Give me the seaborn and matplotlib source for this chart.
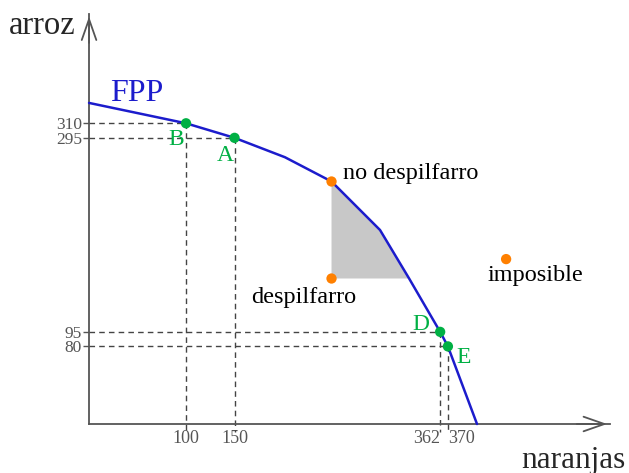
import matplotlib
matplotlib.use("Agg")
import matplotlib.pyplot as plt
import seaborn as sns
import pandas as pd

# frontera de posibilidades de produccion (naranjas, arroz)
fpp_naranjas = [0, 100, 150, 202, 250, 300, 330, 362, 370, 400]
fpp_arroz = [331, 310, 295, 275, 250, 200, 150, 95, 80, 0]

# puntos sobre la frontera
puntos_nombres = ["B", "A", "D", "E"]
puntos_naranjas = [100, 150, 362, 370]
puntos_arroz = [310, 295, 95, 80]

# otros puntos
otros_nombres = ["no despilfarro", "despilfarro", "imposible"]
otros_naranjas = [250, 250, 430]
otros_arroz = [250, 150, 170]

# zona sombreada
zona_naranjas = [250, 250, 330, 300, 250]
zona_arroz = [250, 150, 150, 200, 250]

xticks = [100, 150, 362, 370]
yticks = [310, 295, 95, 80]

sns.set_style("white")
plt.rcParams['font.family'] = ['Liberation Serif', 'DejaVu Serif']

azul = "#1c1ccc"
verde = "#00b044"
naranja = "#ff8000"
gris = "#555555"

fig = plt.figure(figsize=(6.29, 4.73), dpi=100)
ax = fig.add_axes([0, 0, 1, 1])
ax.set_xlim(-91.8, 556.7)
ax.set_ylim(-50.5, 437.1)

ax.fill(zona_naranjas, zona_arroz, color="#c8c8c8", lw=0, zorder=1)

# lineas discontinuas de referencia
for x, y in zip(puntos_naranjas, puntos_arroz):
    ax.plot([0, x], [y, y], ls=(0, (4, 3)), color="#444444", lw=1, zorder=2)
    ax.plot([x, x], [y, -8], ls=(0, (4, 3)), color="#444444", lw=1, zorder=2)

fpp = pd.DataFrame({"naranjas": fpp_naranjas, "arroz": fpp_arroz})
sns.lineplot(data=fpp, x="naranjas", y="arroz", color=azul, lw=1.8,
             sort=False, ax=ax, zorder=4)

pts = pd.DataFrame({"naranjas": puntos_naranjas, "arroz": puntos_arroz})
sns.scatterplot(data=pts, x="naranjas", y="arroz", color=verde, s=55,
                edgecolor="none", ax=ax, zorder=5)
otros = pd.DataFrame({"naranjas": otros_naranjas, "arroz": otros_arroz})
sns.scatterplot(data=otros, x="naranjas", y="arroz", color=naranja, s=55,
                edgecolor="none", ax=ax, zorder=5)

# etiquetas de los puntos
desp = {"B": (-7, -12), "A": (-6.5, -13), "D": (-14, 5), "E": (11.5, -8)}
for n, x, y in zip(puntos_nombres, puntos_naranjas, puntos_arroz):
    ax.annotate(n, (x, y), xytext=desp[n], textcoords="offset points",
                ha="center", va="center", color=verde, fontsize=17)
desp2 = {"no despilfarro": ((8, 6), "left"), "despilfarro": ((-20, -14), "center"),
         "imposible": ((21, -11.5), "center")}
for n, x, y in zip(otros_nombres, otros_naranjas, otros_arroz):
    off, ha = desp2[n]
    ax.annotate(n, (x, y), xytext=off, textcoords="offset points",
                ha=ha, va="center", color="black", fontsize=17.5)

ax.text(49, 341, "FPP", color=azul, fontsize=23, ha="center", va="center")

# ejes con flechas
for s in ["top", "right"]:
    ax.spines[s].set_visible(False)
ax.spines["left"].set_position(("data", 0))
ax.spines["bottom"].set_position(("data", 0))
ax.spines["left"].set_bounds(0, 423)
ax.spines["bottom"].set_bounds(0, 537)
for s in ["left", "bottom"]:
    ax.spines[s].set_color(gris)
    ax.spines[s].set_linewidth(1.3)
ax.annotate("", xy=(537, 0), xytext=(500, 0),
            arrowprops=dict(arrowstyle="->,head_length=1.0,head_width=0.35",
                            color=gris, lw=1.3, mutation_scale=15))
ax.annotate("", xy=(0, 423), xytext=(0, 390),
            arrowprops=dict(arrowstyle="->,head_length=1.0,head_width=0.35",
                            color=gris, lw=1.3, mutation_scale=15))

ax.set_xticks(xticks)
ax.set_xticklabels([str(v) for v in xticks])
ax.set_yticks(yticks)
ax.set_yticklabels([str(v) for v in yticks])
ax.tick_params(axis="y", direction="out", length=4.5, width=1, color=gris,
               labelcolor=gris, labelsize=12.5, pad=0.5, left=True)
ax.tick_params(axis="x", direction="out", length=0, labelcolor=gris,
               labelsize=13, pad=4, bottom=True)
xl = ax.get_xticklabels()
xl[2].set_ha("right")
xl[3].set_ha("left")
ax.set_xlabel("")
ax.set_ylabel("")

fig.text(42 / 629, 1 - 26 / 473, "arroz", fontsize=23.5, ha="center", va="center")
fig.text(573 / 629, 1 - 460 / 473, "naranjas", fontsize=22.5, ha="center", va="center")

fig.savefig("out.png", dpi=100)
